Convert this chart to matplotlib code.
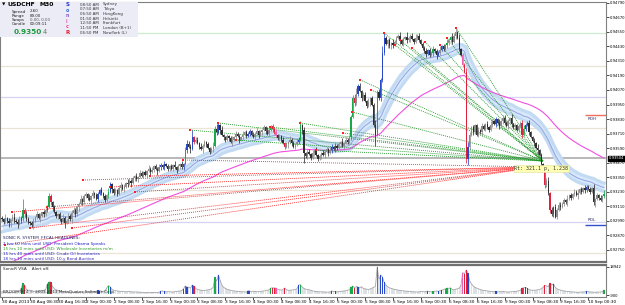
import numpy as np
import matplotlib
matplotlib.use("Agg")
import matplotlib.pyplot as plt
import matplotlib.transforms as mtransforms
from matplotlib.patches import Rectangle

W, H = 625, 305
BASE = 0.9200          # closes are typed in pips above this
PIP = 0.0001

# ---- USDCHF M30 bars, 30 Aug 2013 00:30 .. 10 Sep 2013 ----
FIRST_OPEN = 101
CLOSE_PIPS = [
    100, 98, 101, 99, 97, 100, 102, 99, 98, 96, 99, 101, 108, 104, 100, 98,
    97, 95, 99, 102, 104, 101, 103, 106, 104, 108, 110, 119, 114, 110, 106, 103,
    104, 100, 98, 101, 97, 99, 103, 100, 105, 108, 104, 110, 113, 117, 114, 119,
    121, 118, 116, 119, 122, 120, 117, 121, 124, 122, 119, 116, 120, 123, 129, 125,
    122, 124, 121, 126, 128, 125, 127, 130, 129, 132, 130, 134, 136, 133, 135, 138,
    136, 139, 137, 140, 142, 139, 141, 144, 142, 140, 143, 145, 143, 146, 144, 142,
    144, 142, 145, 143, 141, 144, 146, 143, 146, 157, 162, 160, 158, 168, 164, 166,
    163, 160, 158, 161, 164, 162, 159, 156, 158, 161, 175, 172, 178, 174, 170, 168,
    166, 169, 167, 164, 166, 168, 171, 169, 166, 168, 170, 172, 169, 171, 173, 170,
    168, 171, 173, 170, 172, 174, 176, 173, 171, 174, 177, 175, 172, 170, 167, 169,
    166, 163, 160, 162, 164, 166, 163, 160, 162, 164, 166, 178, 174, 155, 152, 156,
    154, 151, 155, 157, 153, 150, 152, 155, 153, 156, 158, 155, 157, 160, 158, 161,
    159, 162, 164, 161, 163, 166, 164, 168, 185, 200, 196, 204, 210, 206, 200, 203,
    198, 194, 197, 200, 195, 178, 170, 205, 200, 215, 238, 250, 245, 248, 243, 246,
    244, 247, 250, 252, 248, 245, 249, 251, 248, 250, 252, 249, 247, 250, 252, 248,
    245, 242, 239, 237, 240, 236, 238, 241, 239, 236, 238, 240, 243, 241, 244, 246,
    248, 251, 247, 252, 255, 250, 241, 236, 228, 222, 150, 160, 170, 176, 172, 178,
    170, 174, 172, 177, 175, 179, 176, 174, 178, 181, 179, 183, 180, 177, 181, 184,
    180, 177, 181, 184, 179, 176, 178, 174, 177, 180, 170, 175, 178, 180, 172, 168,
    165, 163, 159, 157, 153, 146, 141, 128, 132, 122, 108, 104, 110, 102, 108, 112,
    110, 113, 116, 114, 117, 120, 118, 121, 123, 120, 122, 125, 123, 126, 124, 127,
    125, 123, 126, 114, 117, 120, 118, 116, 119, 121,
]
# wick lengths in pips above the body / below the body
UPPER_WICK = [
    "2131202312429132", "1221312021232121", "1213212132121312", "2131212213121321",
    "1212312132121213", "2121312121321212", "1213121213432612", "2131212123242131",
    "1212312121312121", "2131212132121312", "1212131213231212", "2121312121213212",
    "1213121213452312", "2131214232542121", "3121312142121312", "1213121212131213",
    "2132413121342121", "1213212132121312", "2121312121232121", "1213121223121312",
    "2121312121312121", "1213121213",
]
LOWER_WICK = [
    "1212331213122212", "2131213121212312", "3121412131213121", "1213121312121213",
    "2121312121312121", "1213121213121212", "2121312121213121", "1213121212121312",
    "2121312131212121", "1213121212131212", "2121312121213812", "1213121212131212",
    "2121312121212121", "1213129112121312", "2121312121312121", "1213121313121212",
    "2121312121352121", "1213121212131212", "2121312121312121", "1213121212312121",
    "2121312121312121", "1212412121",
]
# tick volume, hundreds
VOLUME_100 = [
    14, 12, 10, 11, 9, 10, 12, 11, 13, 15, 18, 40, 76, 60, 30, 25,
    25, 20, 18, 16, 15, 17, 20, 22, 25, 30, 70, 84, 82, 50, 35, 28,
    24, 20, 18, 15, 14, 12, 13, 11, 12, 10, 11, 12, 10, 11, 12, 13,
    12, 14, 13, 12, 15, 14, 16, 25, 22, 18, 16, 20, 40, 58, 50, 30,
    25, 22, 20, 18, 17, 16, 15, 14, 15, 16, 14, 13, 12, 13, 12, 11,
    10, 9, 8, 9, 10, 8, 9, 10, 9, 8, 10, 18, 20, 16, 14, 15,
    13, 14, 12, 15, 16, 18, 20, 22, 35, 55, 48, 45, 40, 62, 55, 38,
    30, 28, 25, 24, 22, 25, 28, 30, 35, 45, 118, 90, 133, 95, 60, 45,
    38, 32, 28, 25, 22, 20, 18, 17, 16, 15, 14, 13, 12, 22, 20, 14,
    18, 16, 15, 14, 16, 18, 20, 22, 25, 28, 40, 42, 41, 40, 30, 28,
    26, 30, 41, 28, 25, 24, 26, 28, 30, 35, 62, 64, 48, 38, 32, 30,
    28, 24, 20, 18, 16, 15, 14, 13, 14, 12, 11, 12, 13, 20, 15, 18,
    14, 15, 16, 18, 20, 22, 25, 28, 45, 55, 40, 52, 48, 42, 50, 38,
    35, 32, 30, 34, 40, 45, 55, 189, 100, 133, 118, 80, 60, 50, 42, 38,
    34, 30, 28, 26, 24, 22, 20, 19, 18, 17, 16, 15, 14, 13, 12, 14,
    16, 15, 14, 17, 18, 15, 14, 16, 18, 20, 17, 22, 25, 30, 35, 40,
    38, 42, 30, 28, 32, 35, 40, 60, 150, 140, 168, 147, 90, 70, 55, 45,
    40, 35, 30, 26, 24, 22, 20, 18, 17, 16, 15, 18, 13, 15, 14, 16,
    14, 13, 12, 13, 14, 15, 16, 18, 20, 25, 40, 42, 45, 38, 30, 26,
    25, 24, 26, 28, 30, 35, 45, 60, 55, 50, 76, 62, 70, 45, 35, 30,
    26, 22, 20, 18, 16, 15, 14, 13, 12, 11, 10, 11, 12, 13, 14, 18,
    15, 13, 12, 11, 10, 12, 11, 13, 14, 26,
]
G, R, B, P = "#19a84a", "#e0203c", "#2848c8", "#f060b0"
VSA_COLOURS = {
    11: B, 12: G, 13: R, 26: B, 27: G, 28: R, 55: B, 56: B, 61: G, 62: B,
    91: B, 93: B, 104: B, 105: G, 106: B, 109: B, 110: R, 122: G, 124: B,
    141: B, 142: B, 154: G, 155: R, 156: R, 157: P, 162: R, 170: B, 171: G,
    189: B, 191: B, 200: G, 201: G, 202: R, 204: B, 215: G, 217: B, 218: B,
    219: B, 244: B, 247: G, 250: B, 252: B, 254: G, 255: G, 257: G, 264: P,
    265: R, 266: R, 267: B, 283: B, 298: R, 299: G, 300: B, 301: B, 311: R,
    314: R, 316: B, 335: B, 345: G,
}

DATE_LABELS = ["30 Aug 2013", "30 Aug 08:30", "30 Aug 16:30", "2 Sep 00:30",
               "2 Sep 08:30", "2 Sep 16:30", "3 Sep 00:30", "3 Sep 08:30",
               "3 Sep 16:30", "4 Sep 00:30", "4 Sep 08:30", "4 Sep 16:30",
               "5 Sep 00:30", "5 Sep 08:30", "5 Sep 16:30", "6 Sep 00:30",
               "6 Sep 08:30", "6 Sep 16:30", "9 Sep 00:30", "9 Sep 08:30",
               "9 Sep 16:30", "10 Sep 00:30"]
LABEL_EVERY = 16
PRICE_TICKS = [0.94790, 0.94670, 0.94550, 0.94430, 0.94310, 0.94190, 0.94070,
               0.93950, 0.93830, 0.93710, 0.93590, 0.93470, 0.93350, 0.93230,
               0.93110, 0.92990, 0.92870, 0.92750]
BID = 0.93504
LEVELS = [(0.94542, "#cdeccd"), (0.94269, "#e9e4d6"), (0.94012, "#d4d4f2"),
          (0.93756, "#e9e4d6"), (0.93242, "#e9e4d6"), (0.92977, "#d4d4f2"),
          (0.92721, "#e9e4d6")]
RDH, RDL = 0.93863, 0.92953

# fan lines: start bar / start price, all ending in one point
GREEN_FROM_BAR = [107.7, 123.8, 134.1, 153.6, 170.8, 180.0, 195.4, 200.6, 205.2,
                  211.5, 218.9, 225.2, 228.1, 235.0, 242.4, 251.0, 255.0, 260.2]
GREEN_FROM_PRICE = [0.93739, 0.93797, 0.93656, 0.93764, 0.93797, 0.93573, 0.93714,
                    0.93888, 0.94153, 0.94070, 0.94542, 0.94442, 0.94484, 0.94418,
                    0.94467, 0.94442, 0.94500, 0.94583]
GREEN_TO = (310.0, 0.93482)
RED_FROM_BAR = [1.7, 5.7, 16.0, 25.8, 40.1, 46.4, 61.9, 76.2, 84.8, 103.7]
RED_FROM_PRICE = [0.92787, 0.93060, 0.92928, 0.93102, 0.92928, 0.93325, 0.93267,
                  0.93226, 0.93358, 0.93491]
RED_TO = (307.0, 0.93433)


def ema(x, period, seed):
    a = 2.0 / (period + 1)
    out = np.empty(len(x))
    v = seed
    for k, xv in enumerate(x):
        v += a * (xv - v)
        out[k] = v
    return out


closes = BASE + np.array(CLOSE_PIPS) * PIP
opens = np.r_[BASE + FIRST_OPEN * PIP, closes[:-1]]
up = np.array([int(c) for c in "".join(UPPER_WICK)])
lo = np.array([int(c) for c in "".join(LOWER_WICK)])
highs = np.maximum(opens, closes) + up * PIP
lows = np.minimum(opens, closes) - lo * PIP
vol = np.array(VOLUME_100) * 100
n = len(closes)
idx = np.arange(n)

bull = closes >= opens
cols = [VSA_COLOURS.get(k, "#8c8c8c" if bull[k] else "#2e2e2e") for k in idx]
vcols = [VSA_COLOURS.get(k, "#dde1e6") for k in idx]

fig = plt.figure(figsize=(W / 100, H / 100), dpi=100)


def box(x0, y0, x1, y1):
    return [x0 / W, 1 - y1 / H, (x1 - x0) / W, (y1 - y0) / H]


ax = fig.add_axes(box(0, 2, 606, 262))
axv = fig.add_axes(box(0, 265, 606, 297))
XL = (-1.15, 346.1)

# horizontal levels and bid line
for p, c in LEVELS:
    ax.axhline(p, color=c, lw=0.9, zorder=0.5)
ax.axhline(BID, color="#a4a4a4", lw=1.1, zorder=0.6)
ax.hlines(RDH, 334, XL[1], color="#f07060", lw=1.0, zorder=0.7)
ax.hlines(RDL, 334, XL[1], color="#3050d0", lw=1.0, zorder=0.7)
ax.text(335.5, RDH - 0.00030, "RDH", fontsize=3.0, color="#303070", va="center")
ax.text(335.5, RDL + 0.00040, "RDL", fontsize=3.0, color="#303070", va="center")

# dragon band (EMA34 of high/low/close) and EMA89
e_hi = ema(highs, 34, BASE + 99 * PIP)
e_lo = ema(lows, 34, BASE + 89 * PIP)
e_cl = ema(closes, 34, BASE + 94 * PIP)
e89 = ema(closes, 89, BASE + 59 * PIP)
ax.fill_between(idx, e_lo, e_hi, color="#d6e8f9", lw=0, zorder=1)
ax.plot(idx, e_hi, color="#c2daf2", lw=2.2, zorder=1.1)
ax.plot(idx, e_lo, color="#c2daf2", lw=2.2, zorder=1.1)
ax.plot(idx, e_cl, color="#94a2e4", lw=0.7, zorder=1.2)
ax.plot(idx, e89, color="#f050e0", lw=0.8, zorder=1.3)

# fan lines
dots = (0, (1.2, 1.2))
for b0, p0 in zip(GREEN_FROM_BAR, GREEN_FROM_PRICE):
    ax.plot([b0, GREEN_TO[0]], [p0, GREEN_TO[1]], ls=dots, lw=0.6, color="#22962a", zorder=2)
for b0, p0 in zip(RED_FROM_BAR, RED_FROM_PRICE):
    ax.plot([b0, RED_TO[0]], [p0, RED_TO[1]], ls=dots, lw=0.6, color="#ff2a2a", zorder=2)

# candles
ax.vlines(idx, lows, highs, colors=cols, lw=0.55, zorder=3)
ax.bar(idx, np.maximum(np.abs(closes - opens), 0.3 * PIP), bottom=np.minimum(opens, closes),
       width=0.75, color=cols, lw=0, zorder=3.1)
ax.plot(GREEN_FROM_BAR + RED_FROM_BAR, GREEN_FROM_PRICE + RED_FROM_PRICE, ls="none",
        marker="s", ms=1.5, mew=0, color="#ff2020", zorder=4)

ax.text(GREEN_TO[0] - 16.5, 0.93420, "Rt: 321.1 p, 1.238", fontsize=3.6,
        family="DejaVu Sans Mono", color="#303030", va="center", zorder=5,
        bbox=dict(fc="#ffffb4", ec="#e0e0a0", lw=0.4, pad=0.5))

ax.set_xlim(*XL)
ax.set_ylim(0.92647, 0.94798)
ax.set_xticks([])
ax.yaxis.tick_right()
ax.set_yticks(PRICE_TICKS)
ax.set_yticklabels([f"{t:.5f}" for t in PRICE_TICKS])
ax.tick_params(axis="y", labelsize=2.7, length=2, width=0.5, pad=0.8)
for s in ax.spines.values():
    s.set_color("#808080")
    s.set_linewidth(0.8)
ax.spines["bottom"].set_linewidth(1.6)
ax.spines["bottom"].set_color("#707070")

tr = mtransforms.blended_transform_factory(ax.transAxes, ax.transData)
ax.text(1.004, BID, f"{BID:.5f}", transform=tr, fontsize=2.7, color="white",
        va="center", ha="left", zorder=10, clip_on=False,
        bbox=dict(fc="black", ec="black", pad=0.5))

# volume panel
axv.bar(idx, vol, width=0.75, color=vcols, lw=0, zorder=1)
axv.plot(idx, vol, color="#a6a6a6", lw=0.6, zorder=2)
mask = np.array([k in VSA_COLOURS for k in idx])
axv.bar(idx[mask], vol[mask], width=0.75, color=[VSA_COLOURS[k] for k in idx[mask]],
        lw=0, zorder=3)
axv.set_xlim(*XL)
axv.set_ylim(-2300, 20350)
axv.yaxis.tick_right()
axv.set_yticks([18942, -900])
axv.set_yticklabels(["18942", "-900"])
axv.tick_params(axis="y", labelsize=2.7, length=2, width=0.5, pad=0.8)
axv.set_xticks(np.arange(len(DATE_LABELS)) * LABEL_EVERY)
axv.set_xticklabels(DATE_LABELS)
axv.tick_params(axis="x", labelsize=3.1, length=2, width=0.5, pad=0.5)
for t in axv.get_xticklabels():
    t.set_ha("left")
for s in axv.spines.values():
    s.set_color("#808080")
    s.set_linewidth(0.8)
axv.spines["top"].set_linewidth(1.6)
axv.spines["top"].set_color("#707070")


def put(x, y, s, size=3.0, color="black", **kw):
    fig.text(x / W, 1 - y / H, s, fontsize=size, color=color, va="center", zorder=6, **kw)


# info panel, top left
fig.patches.append(Rectangle((0, 1 - 37 / H), 138 / W, 35 / H, transform=fig.transFigure,
                             fc="#ececf6", ec="none", zorder=5))
put(2, 5, "\u25bc", size=3.2)
put(8, 5, "USDCHF", size=4.4, weight="bold")
put(40, 5, "M30", size=4.4, weight="bold")
for k, (lab, val) in enumerate([("Spread", "2.60"), ("Range", "89.00"),
                                 ("Swaps", "0.00, 0.00"), ("Candle", "00:09:11")]):
    put(12, 11.5 + 4.3 * k, lab, size=2.9, color="#202020")
    put(30, 11.5 + 4.3 * k, val, size=2.9, color="#505050" if lab == "Swaps" else "#202020")
put(14, 32, "0.9350", size=5.3, color="#1f9a3c", weight="bold")
put(42.5, 32.3, "4", size=4.8, color="#707070")
for k, (ch, c) in enumerate(zip("SonicR", ["#2030d0", "#3a6ad8", "#8a60d0", "#e060b0",
                                          "#f04090", "#e02030"])):
    put(66, 5 + 5.4 * k, ch, size=4.0 if ch in "SR" else 3.4, color=c, weight="bold")
CLOCKS = [("08:50 AM", "Sydney"), ("07:50 AM", "Tokyo"), ("06:50 AM", "HongKong"),
          ("01:50 AM", "Helsinki"), ("12:50 AM", "Frankfurt"),
          ("11:50 PM", "London (B+1)"), ("06:50 PM", "NewYork (L)")]
for k, (tm, city) in enumerate(CLOCKS):
    put(80, 4.5 + 4.75 * k, tm, size=2.9, color="#303030")
    put(103, 4.5 + 4.75 * k, city, size=2.9, color="#303030")

# headlines, lower left of the price panel
put(3, 238, "SONIC R. SYSTEM  FFCAL HEADLINES:", size=3.0, color="#1c1c5c")
HEADLINES = [("2 hrs 10 mins until USD: President Obama Speaks", "#2424c8"),
             ("15 hrs 10 mins until USD: Wholesale Inventories m/m", "#2a9a2a"),
             ("15 hrs 40 mins until USD: Crude Oil Inventories", "#2424c8"),
             ("18 hrs 10 mins until USD: 10-y Bond Auction", "#3a2ab8")]
for k, (s, c) in enumerate(HEADLINES):
    put(3, 244 + 5 * k, s, size=3.0, color=c)

put(3, 269.5, "SonicR VSA    Alert off.", size=3.0, color="#202020")
put(3, 292, "BROOM MT4 \u00a9 2003-2013 MetaQuotes Software Corp.", size=3.0, color="#303030")

fig.savefig("out.png", dpi=100)
